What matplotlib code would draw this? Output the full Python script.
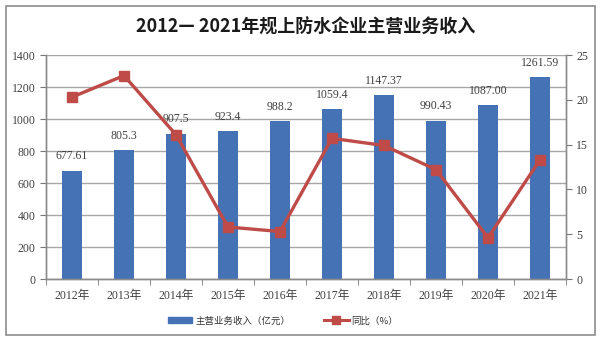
import matplotlib
matplotlib.use("Agg")
import matplotlib.pyplot as plt
from matplotlib.patches import Rectangle, Patch
from matplotlib.lines import Line2D
import numpy as np

years = ["2012年", "2013年", "2014年", "2015年", "2016年", "2017年", "2018年", "2019年", "2020年", "2021年"]
revenue = [677.61, 805.3, 907.5, 923.4, 988.2, 1059.4, 1147.37, 990.43, 1087.00, 1261.59]
revenue_labels = ["677.61", "805.3", "907.5", "923.4", "988.2", "1059.4", "1147.37", "990.43", "1087.00", "1261.59"]
yoy = [20.3, 22.7, 16.1, 5.8, 5.3, 15.7, 14.9, 12.2, 4.6, 13.3]

title = "2012— 2021年规上防水企业主营业务收入"
bar_name = "主营业务收入（亿元）"
line_name = "同比（%）"

FAM = ["Liberation Serif", "Noto Sans CJK SC", "DejaVu Sans"]
SANS = ["Noto Sans CJK SC", "DejaVu Sans"]
plt.rcParams['font.family'] = FAM

bar_color = "#4472B4"
line_color = "#BE4B48"
grid_color = "#A6A6A6"
text_color = "#404040"

fig = plt.figure(figsize=(6, 3.41), dpi=100)
W, H = 600, 341
ax = fig.add_axes([46 / W, (H - 279) / H, (566 - 46) / W, (279 - 55) / H])
ax2 = ax.twinx()

x = np.arange(len(years))
ax.bar(x, revenue, width=0.385, color=bar_color, zorder=2)
ax.set_xlim(-0.5, len(years) - 0.5)
ax.set_ylim(0, 1400)
ax.set_yticks(np.arange(0, 1401, 200))
ax.yaxis.grid(True, color=grid_color, linewidth=1.0, zorder=0)
ax.set_axisbelow(True)
ax.set_xticks(x)
ax.set_xticklabels(years, fontsize=8.5, color=text_color)
ax.set_xticks(np.arange(-0.5, len(years)), minor=True)
ax.tick_params(axis='x', which='major', length=0, pad=8)
ax.tick_params(axis='x', which='minor', length=4, direction='out', color="#777777")
ax.tick_params(axis='y', length=4, direction='out', labelsize=8.5, colors=text_color, color="#777777")

for xi, v, lab in zip(x, revenue, revenue_labels):
    ax.annotate(lab, (xi, v), xytext=(0, 6), textcoords='offset points',
                ha='center', va='bottom', fontsize=8.5, color=text_color)

ax2.plot(x, yoy, color=line_color, linewidth=2.4, marker='s', markersize=6.5, zorder=3)
ax2.set_ylim(0, 25)
ax2.set_yticks(np.arange(0, 26, 5))
ax2.tick_params(axis='y', length=4, direction='out', labelsize=8.5, colors=text_color, color="#777777")

for a in (ax, ax2):
    a.spines['top'].set_visible(False)
    for s in ('left', 'right', 'bottom'):
        a.spines[s].set_color("#8C8C8C")
        a.spines[s].set_linewidth(1.0)

fig.text(306 / W, (H - 27) / H, title, ha='center', va='center', fontsize=13,
         fontweight='bold', family=["Noto Sans CJK SC", "DejaVu Sans"], color="#1a1a1a")

handles = [Patch(color=bar_color, label=bar_name),
           Line2D([], [], color=line_color, linewidth=2.2, marker='s', markersize=5.5, label=line_name)]
leg = fig.legend(handles=handles, loc='center', bbox_to_anchor=(283 / W, (H - 321) / H), ncol=2,
                 frameon=False, prop={'family': SANS, 'size': 6.8}, handlelength=2.6,
                 handleheight=0.6, columnspacing=3.6, handletextpad=0.3)
for t in leg.get_texts():
    t.set_color("#333333")

fig.patches.append(Rectangle((6 / W, (H - 335) / H), (595 - 6) / W, (335 - 6) / H,
                             transform=fig.transFigure, fill=False, edgecolor="#8C8C8C", linewidth=1.2))

fig.savefig("out.png", dpi=100)
